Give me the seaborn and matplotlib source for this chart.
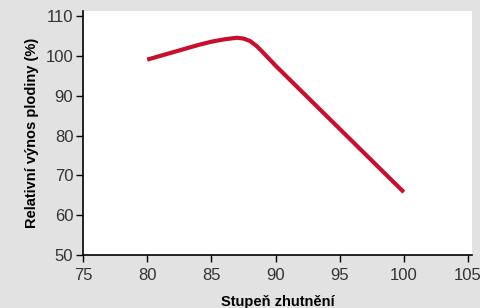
import matplotlib
matplotlib.use("Agg")
import matplotlib.pyplot as plt
import seaborn as sns
import pandas as pd

# compaction degree vs relative crop yield
compaction = [80, 84, 85, 86, 87, 87.5, 88, 88.5, 89, 90, 95, 100]
yield_rel = [99.1, 102.8, 103.6, 104.2, 104.6, 104.4, 103.8, 102.6, 101.0, 97.6, 81.7, 65.8]

x_ticks = [75, 80, 85, 90, 95, 100, 105]
y_ticks = [50, 60, 70, 80, 90, 100, 110]

df = pd.DataFrame({"x": compaction, "y": yield_rel})

sns.set_style("ticks")
plt.rcParams["font.family"] = ["Liberation Sans", "DejaVu Sans"]

fig = plt.figure(figsize=(4.8, 3.08), dpi=100, facecolor="#e2e2e2")
ax = fig.add_axes([0.173, 0.172, 0.810, 0.792])
ax.set_facecolor("white")

sns.lineplot(data=df, x="x", y="y", ax=ax, color="#c8102e", linewidth=3.0,
             solid_capstyle="butt", solid_joinstyle="round")

ax.set_xlim(75, 105.3)
ax.set_ylim(50, 111.3)
ax.set_xticks(x_ticks)
ax.set_yticks(y_ticks)
ax.tick_params(axis="both", labelsize=12, labelcolor="#333333", color="black",
               length=5, width=1, direction="out")
ax.tick_params(axis="x", pad=4)
ax.tick_params(axis="y", pad=2)
for side in ["top", "right"]:
    ax.spines[side].set_visible(False)
for side in ["left", "bottom"]:
    ax.spines[side].set_color("black")
    ax.spines[side].set_linewidth(1.2)

label_font = dict(fontsize=10.5, fontweight="bold", color="black",
                  family=["Liberation Sans Narrow", "Liberation Sans"])
ax.set_xlabel("Stupeň zhutnění", labelpad=9, **label_font)
ax.set_ylabel("Relativní výnos plodiny (%)", labelpad=5, **label_font)

fig.savefig("out.png", dpi=100, facecolor=fig.get_facecolor())
